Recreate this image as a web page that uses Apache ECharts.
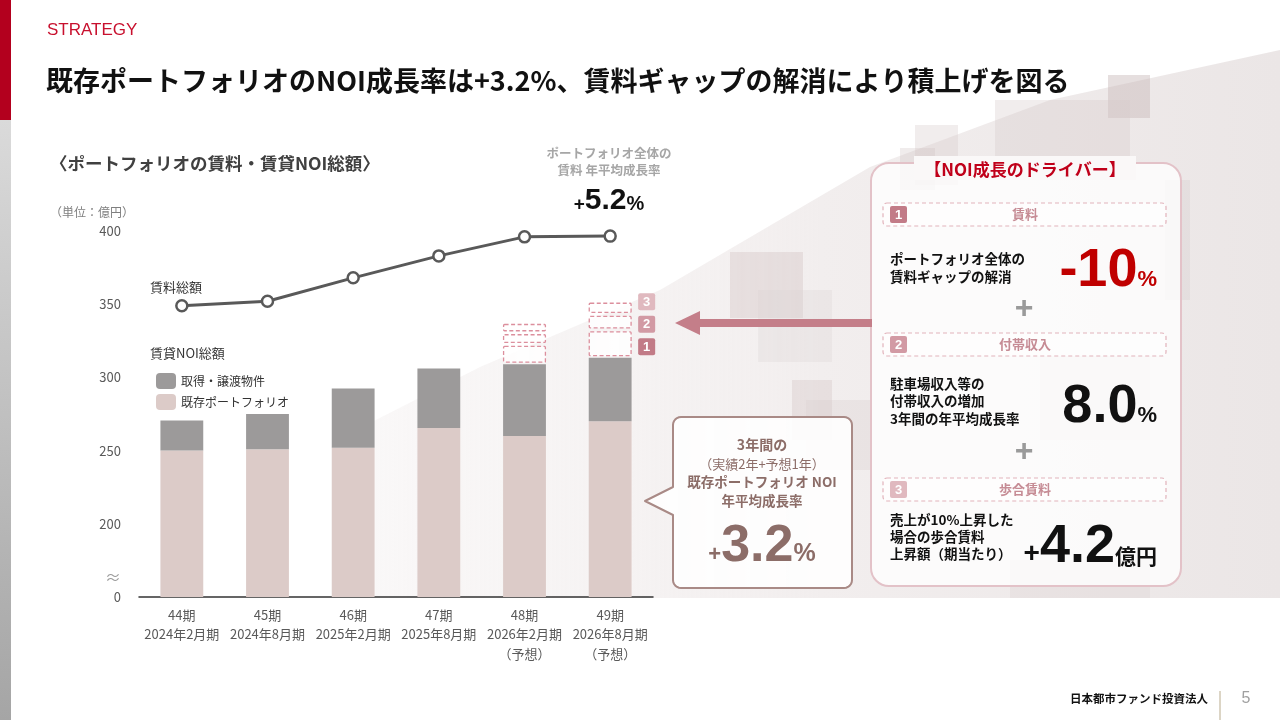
<!DOCTYPE html>
<html><head><meta charset="utf-8">
<script src="https://cdn.jsdelivr.net/npm/echarts@6/dist/echarts.min.js"></script>
<style>html,body{margin:0;padding:0;background:#fff}#c{width:1280px;height:720px}</style>
</head><body><div id="c"></div>
<script>
// ---- data ----
const periods = ['44期','45期','46期','47期','48期','49期'];
const fiscalPeriods = ['2024年2月期','2024年8月期','2025年2月期','2025年8月期','2026年2月期','2026年8月期'];
const forecastNotes = ['','','','','（予想）','（予想）'];
const rentTotal = [349, 352, 368, 383, 396, 396.5];
const noiExisting = [250, 251, 252, 265.5, 260, 270];
const noiAcquired = [20.5, 24, 40.5, 40.5, 49, 43.5];
const driverRentGap = [null, null, null, null, 13.5, 19];
const driverIncidental = [null, null, null, null, 8, 10.5];
const driverPercentRent = [null, null, null, null, 7, 9];
const yTickLabels = ['0', '200', '250', '300', '350', '400'];

const JP = '"Noto Sans CJK JP", sans-serif';
const AR = '"Liberation Sans", Arial, sans-serif';

const chart = echarts.init(document.getElementById('c'), null, {renderer: 'canvas'});
const mctx = document.createElement('canvas').getContext('2d');

function txt(text, x, y, s, z) {
  return {type: 'text', x: x, y: y, z: z == null ? 60 : z, silent: true,
    style: Object.assign({text: text, fontFamily: JP, fontSize: 13, fill: '#333', align: 'left', verticalAlign: 'middle'}, s)};
}
// baseline-aligned multi-size number: parts [[text, size, family]]
function bigNum(parts, x, baseline, color, align) {
  const ws = parts.map(p => {
    mctx.font = 'bold ' + p[1] + 'px ' + (p[2] || AR);
    return mctx.measureText(p[0]).width;
  });
  const total = ws.reduce((a, b) => a + b, 0);
  let cx = align === 'right' ? x - total : (align === 'center' ? x - total / 2 : x);
  const out = [];
  parts.forEach((p, i) => {
    const isJP = p[2] === JP;
    const k = isJP ? 0.34 : 0.30;
    out.push({type: 'text', x: cx, y: baseline - k * p[1], z: 60, silent: true,
      style: {text: p[0], fontFamily: p[2] || AR, fontSize: p[1], fontWeight: 'bold', fill: color, align: 'left', verticalAlign: 'middle'}});
    cx += ws[i];
  });
  return out;
}
function arcPts(cx, cy, r, a0, a1) {
  const pts = [];
  for (let k = 0; k <= 6; k++) {
    const a = a0 + (a1 - a0) * k / 6;
    pts.push([cx + r * Math.cos(a), cy + r * Math.sin(a)]);
  }
  return pts;
}

const squares = [
  [1108, 75, 42, 43, 'rgba(200,185,185,0.45)'],
  [995, 100, 135, 80, 'rgba(215,203,203,0.35)'],
  [915, 125, 43, 60, 'rgba(215,203,203,0.35)'],
  [900, 148, 35, 42, 'rgba(205,192,192,0.3)'],
  [730, 252, 73, 66, 'rgba(205,190,190,0.35)'],
  [758, 290, 74, 72, 'rgba(220,212,212,0.3)'],
  [792, 380, 40, 60, 'rgba(205,190,190,0.3)'],
  [806, 400, 64, 70, 'rgba(215,205,205,0.3)'],
  [1040, 350, 110, 90, 'rgba(215,205,205,0.25)'],
  [1165, 180, 25, 120, 'rgba(215,205,205,0.35)'],
  [1010, 560, 140, 38, 'rgba(215,205,205,0.25)']
];

let graphics = [];
graphics.push({type: 'rect', z: 1, shape: {x: 0, y: 0, width: 11, height: 120}, style: {fill: '#b3001e'}});
graphics.push({type: 'rect', z: 1, shape: {x: 0, y: 120, width: 11, height: 600},
  style: {fill: new echarts.graphic.LinearGradient(0, 0, 0, 1, [{offset: 0, color: '#dadada'}, {offset: 1, color: '#a5a5a5'}])}});
graphics.push({type: 'polygon', z: -5, shape: {points: [[360, 428], [480, 367], [660, 290], [870, 167], [1050, 100], [1280, 50], [1280, 598], [360, 598]]},
  style: {fill: new echarts.graphic.LinearGradient(0, 0, 1, 0, [{offset: 0, color: 'rgba(246,243,243,0.6)'}, {offset: 0.5, color: '#f2eeee'}, {offset: 1, color: '#ebe6e6'}])}});
squares.forEach(s => graphics.push({type: 'rect', z: -4, shape: {x: s[0], y: s[1], width: s[2], height: s[3]}, style: {fill: s[4]}}));

graphics.push(txt('STRATEGY', 47, 30, {fontFamily: AR, fontSize: 17, fill: '#c8102e'}));
graphics.push(txt('既存ポートフォリオのNOI成長率は+3.2%、賃料ギャップの解消により積上げを図る', 46, 81,
  {fontSize: 27, fontWeight: 'bold', fill: '#111'}));
graphics.push(txt('〈ポートフォリオの賃料・賃貸NOI総額〉', 50, 163, {fontSize: 17.5, fontWeight: 'bold', fill: '#404040'}));
graphics.push(txt('（単位：億円）', 50, 212, {fontSize: 12, fill: '#7f7f7f'}));
graphics.push(txt('賃料総額', 150, 287, {fontSize: 13, fill: '#333'}));
graphics.push(txt('賃貸NOI総額', 150, 353, {fontSize: 13, fill: '#333'}));
graphics.push(txt('≈', 113, 577, {fontSize: 16, fill: '#9a9a9a', align: 'center'}));

graphics.push(txt('ポートフォリオ全体の', 609, 153, {fontSize: 12.5, fontWeight: 'bold', fill: '#a6a6a6', align: 'center'}));
graphics.push(txt('賃料 年平均成長率', 609, 170, {fontSize: 12.5, fontWeight: 'bold', fill: '#a6a6a6', align: 'center'}));
graphics = graphics.concat(bigNum([['+', 19], ['5.2', 30], ['%', 20]], 609, 210, '#111', 'center'));

graphics.push({type: 'rect', z: 55, shape: {x: 698, y: 319, width: 174, height: 8}, style: {fill: '#c47e89'}});
graphics.push({type: 'polygon', z: 55, shape: {points: [[675, 323], [700, 311], [700, 335]]}, style: {fill: '#c47e89'}});

const r = 8, L = 673, R = 852, Tp = 417, B = 588;
let cpts = [];
cpts = cpts.concat(arcPts(L + r, Tp + r, r, Math.PI, 1.5 * Math.PI));
cpts = cpts.concat(arcPts(R - r, Tp + r, r, 1.5 * Math.PI, 2 * Math.PI));
cpts = cpts.concat(arcPts(R - r, B - r, r, 0, 0.5 * Math.PI));
cpts = cpts.concat(arcPts(L + r, B - r, r, 0.5 * Math.PI, Math.PI));
cpts.push([L, 515], [645, 501], [L, 487]);
graphics.push({type: 'polygon', z: 50, shape: {points: cpts},
  style: {fill: 'rgba(255,255,255,0.88)', stroke: '#a98a86', lineWidth: 2, lineJoin: 'round'}});
const cc = '#8c6d68';
graphics.push(txt('3年間の', 762, 445, {fontSize: 14, fontWeight: 'bold', fill: cc, align: 'center'}));
graphics.push(txt('（実績2年+予想1年）', 762, 464, {fontSize: 13, fill: cc, align: 'center'}));
graphics.push(txt('既存ポートフォリオ NOI', 762, 482, {fontSize: 13.5, fontWeight: 'bold', fill: cc, align: 'center'}));
graphics.push(txt('年平均成長率', 762, 501, {fontSize: 13.5, fontWeight: 'bold', fill: cc, align: 'center'}));
graphics = graphics.concat(bigNum([['+', 22], ['3.2', 52], ['%', 25]], 762, 562, cc, 'center'));

graphics.push({type: 'rect', z: 50, shape: {x: 871, y: 163, width: 310, height: 423, r: 18},
  style: {fill: 'rgba(255,255,255,0.78)', stroke: '#e3c2c8', lineWidth: 2}});
graphics.push({type: 'rect', z: 51, shape: {x: 914, y: 156, width: 222, height: 24}, style: {fill: 'rgba(250,248,248,1)'}});
graphics.push(txt('【NOI成長のドライバー】', 1025, 170, {fontSize: 17, fontWeight: 'bold', fill: '#c0001a', align: 'center'}));

const heads = [[203, '1', '賃料', '#c27b87'], [333, '2', '付帯収入', '#d29aa4'], [478, '3', '歩合賃料', '#e0b9bf']];
heads.forEach(h => {
  graphics.push({type: 'rect', z: 55, shape: {x: 883, y: h[0], width: 283, height: 23, r: 4},
    style: {fill: 'rgba(255,255,255,0.6)', stroke: '#e2b3bb', lineWidth: 1.2, lineDash: [4, 3]}});
  graphics.push({type: 'rect', z: 56, shape: {x: 890, y: h[0] + 3, width: 17, height: 17, r: 2}, style: {fill: h[3]}});
  graphics.push(txt(h[1], 898.5, h[0] + 12, {fontFamily: AR, fontSize: 13, fontWeight: 'bold', fill: '#fff', align: 'center'}, 57));
  graphics.push(txt(h[2], 1025, h[0] + 11.5, {fontSize: 13, fontWeight: 'bold', fill: '#c68c95', align: 'center'}, 57));
});
const rowTxt = {fontSize: 13.5, fontWeight: 'bold', fill: '#111'};
graphics.push(txt('ポートフォリオ全体の', 890, 259, rowTxt));
graphics.push(txt('賃料ギャップの解消', 890, 277, rowTxt));
graphics = graphics.concat(bigNum([['-10', 54], ['%', 22]], 1157, 287, '#c00000', 'right'));
graphics.push(txt('+', 1024, 309, {fontFamily: AR, fontSize: 32, fontWeight: 'bold', fill: '#9a9a9a', align: 'center'}));
graphics.push(txt('駐車場収入等の', 890, 384, rowTxt));
graphics.push(txt('付帯収入の増加', 890, 401, rowTxt));
graphics.push(txt('3年間の年平均成長率', 890, 419, rowTxt));
graphics = graphics.concat(bigNum([['8.0', 54], ['%', 22]], 1157, 423, '#111', 'right'));
graphics.push(txt('+', 1024, 452, {fontFamily: AR, fontSize: 32, fontWeight: 'bold', fill: '#9a9a9a', align: 'center'}));
graphics.push(txt('売上が10%上昇した', 890, 520, rowTxt));
graphics.push(txt('場合の歩合賃料', 890, 537, rowTxt));
graphics.push(txt('上昇額（期当たり）', 890, 554, rowTxt));
graphics = graphics.concat(bigNum([['+', 28], ['4.2', 54], ['億円', 21, JP]], 1157, 563, '#111', 'right'));

graphics.push(txt('日本都市ファンド投資法人', 1208, 699, {fontSize: 11.5, fontWeight: 'bold', fill: '#111', align: 'right'}));
graphics.push({type: 'line', z: 60, shape: {x1: 1220, y1: 691, x2: 1220, y2: 720}, style: {stroke: '#b9ab8c', lineWidth: 1}});
graphics.push(txt('5', 1246, 699, {fontFamily: AR, fontSize: 16, fill: '#a0a0a0', align: 'center'}));

const driverData = [];
periods.forEach((p, i) => {
  if (driverRentGap[i] != null) {
    driverData.push([i, noiExisting[i] + noiAcquired[i], driverRentGap[i], driverIncidental[i], driverPercentRent[i]]);
  }
});
const badgeColors = ['#c27b87', '#d29aa4', '#e0b9bf'];
const lastIdx = periods.length - 1;

function renderDrivers(params, api) {
  const i = api.value(0);
  const base = api.value(1);
  const ds = [api.value(2), api.value(3), api.value(4)];
  const bw = api.size([1, 0])[0] * 0.5;
  const cx = api.coord([i, base])[0];
  const children = [];
  let cum = base;
  let box1Center = 0;
  ds.forEach((d, k) => {
    const yb = api.coord([i, cum])[1];
    const yt = api.coord([i, cum + d])[1];
    if (k === 0) box1Center = (yb + yt) / 2;
    children.push({type: 'rect', shape: {x: cx - bw / 2 + 0.5, y: yt + 2, width: bw - 1, height: yb - yt - 4, r: 1},
      style: {fill: 'rgba(255,255,255,0.85)', stroke: '#dc8f9d', lineWidth: 1.3, lineDash: [4, 2.5]}});
    cum += d;
  });
  if (i === lastIdx) {
    [0, 1, 2].forEach(k => {
      const yc = box1Center + 3 - 22.5 * k;
      children.push({type: 'rect', shape: {x: cx + 28, y: yc - 8.5, width: 17, height: 17, r: 2}, style: {fill: badgeColors[k]}});
      children.push({type: 'text', style: {text: String(k + 1), x: cx + 36.5, y: yc + 0.5, fill: '#fff', fontFamily: AR,
        fontSize: 13, fontWeight: 'bold', align: 'center', verticalAlign: 'middle'}});
    });
  }
  return {type: 'group', children: children};
}

const option = {
  animation: false,
  backgroundColor: 'transparent',
  grid: {left: 139, right: 627, top: 231, bottom: 123},
  legend: {
    data: ['取得・譲渡物件', '既存ポートフォリオ'],
    orient: 'vertical', left: 151, top: 368, itemWidth: 20, itemHeight: 16, itemGap: 5,
    icon: 'roundRect', selectedMode: false,
    textStyle: {fontFamily: JP, fontSize: 12, color: '#333'}
  },
  xAxis: {
    type: 'category', data: periods,
    axisLine: {lineStyle: {color: '#333', width: 1.5}},
    axisTick: {show: false},
    axisLabel: {
      margin: 8, fontFamily: JP, fontSize: 13, color: '#595959', lineHeight: 19.5, interval: 0,
      formatter: (v, i) => [periods[i], fiscalPeriods[i], forecastNotes[i]].filter(Boolean).join('\n')
    }
  },
  yAxis: {
    type: 'value', min: 150, max: 400, interval: 50,
    axisLine: {show: false}, axisTick: {show: false}, splitLine: {show: false},
    axisLabel: {margin: 18, fontFamily: JP, fontSize: 13, color: '#595959', formatter: (v, i) => yTickLabels[i]}
  },
  series: [
    {name: '既存ポートフォリオ', type: 'bar', stack: 'noi', barWidth: '50%', data: noiExisting,
      itemStyle: {color: '#dccbc8'}, z: 3},
    {name: '取得・譲渡物件', type: 'bar', stack: 'noi', barWidth: '50%', data: noiAcquired,
      itemStyle: {color: '#9c9a9a'}, z: 3},
    {name: 'drivers', type: 'custom', renderItem: renderDrivers, data: driverData, z: 4,
      encode: {x: 0, y: 1}},
    {name: '賃料総額', type: 'line', data: rentTotal, symbol: 'circle', symbolSize: 11,
      lineStyle: {color: '#595959', width: 3}, itemStyle: {color: '#fff', borderColor: '#595959', borderWidth: 2.5}, z: 5}
  ],
  graphic: {elements: graphics}
};
chart.setOption(option);
</script></body></html>
